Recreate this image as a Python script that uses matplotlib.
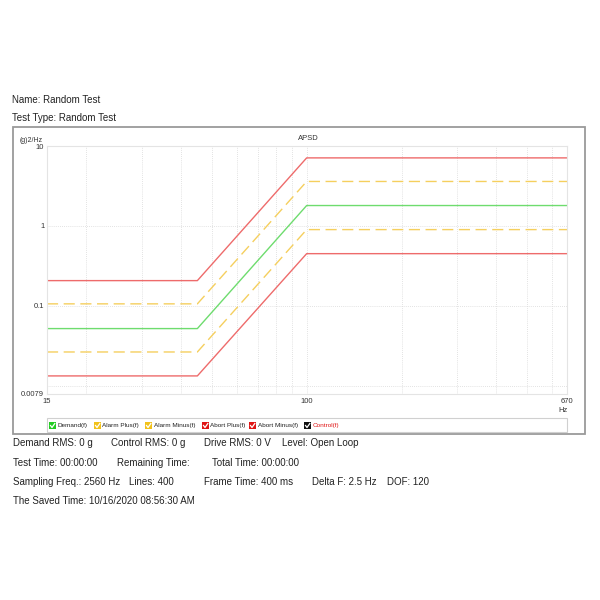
import matplotlib
matplotlib.use("Agg")
import matplotlib.pyplot as plt
from matplotlib.patches import Rectangle
from matplotlib.lines import Line2D

plt.rcParams['font.family'] = ['Liberation Sans', 'DejaVu Sans']

# ---------------- data ----------------
freq = [15, 45, 100, 670]
demand = [0.052, 0.052, 1.8, 1.8]
alarm_plus = [0.106, 0.106, 3.6, 3.6]
alarm_minus = [0.0265, 0.0265, 0.9, 0.9]
abort_plus = [0.207, 0.207, 7.1, 7.1]
abort_minus = [0.0133, 0.0133, 0.45, 0.45]

x_ticks = [15, 100, 670]
x_tick_labels = ["15", "100", "670"]
y_ticks = [10, 1, 0.1, 0.0079]
y_tick_labels = ["10", "1", "0.1", "0.0079"]
x_grid = [20, 30, 40, 50, 60, 70, 80, 90, 100, 200, 300, 400, 500, 600]
y_grid = [0.01, 0.1, 1, 10]

legend_names = ["Demand(f)", "Alarm Plus(f)", "Alarm Minus(f)", "Abort Plus(f)", "Abort Minus(f)", "Control(f)"]
legend_colors = ["#22CC22", "#F2C21B", "#F2C21B", "#E01515", "#E01515", "#111111"]
legend_x = [49, 94, 145, 202, 249, 304]

header = ["Name: Random Test", "Test Type: Random Test"]
footer_rows = [
    [(13, "Demand RMS: 0 g"), (111, "Control RMS: 0 g"), (204, "Drive RMS: 0 V"), (282, "Level: Open Loop")],
    [(13, "Test Time: 00:00:00"), (117, "Remaining Time:"), (212, "Total Time: 00:00:00")],
    [(13, "Sampling Freq.: 2560 Hz"), (129, "Lines: 400"), (204, "Frame Time: 400 ms"), (312, "Delta F: 2.5 Hz"), (387, "DOF: 120")],
    [(13, "The Saved Time: 10/16/2020 08:56:30 AM")],
]
footer_y = [443, 463, 482, 501]

W = H = 600.0
def fx(x):
    return x / W
def fy(y):
    return 1 - y / H

fig = plt.figure(figsize=(6, 6), dpi=100)
fig.patch.set_facecolor("white")

# outer panel border
fig.patches.append(Rectangle((fx(12.5), fy(434)), fx(585) - fx(12.5), fy(127) - fy(434),
                             transform=fig.transFigure, fill=False, edgecolor="#9A9A9A", lw=1.3))

# axes
ax = fig.add_axes([fx(47), fy(394), fx(567) - fx(47), fy(146) - fy(394)])
ax.set_xscale("log")
ax.set_yscale("log")
ax.set_xlim(15, 670)
ax.set_ylim(0.0079, 10)

for g in x_grid:
    ax.axvline(g, color="#D9D9D9", lw=0.6, ls=(0, (1, 1.5)), zorder=0)
for g in y_grid:
    ax.axhline(g, color="#D9D9D9", lw=0.6, ls=(0, (1, 1.5)), zorder=0)

red = "#EE6B6B"
yel = "#F5CF5E"
grn = "#6EDC6E"
ax.plot(freq, abort_plus, color=red, lw=1.0)
ax.plot(freq, abort_minus, color=red, lw=1.0)
ax.plot(freq, alarm_plus, color=yel, lw=1.0, ls=(0, (8, 4)))
ax.plot(freq, alarm_minus, color=yel, lw=1.0, ls=(0, (8, 4)))
ax.plot(freq, demand, color=grn, lw=1.0)

ax.minorticks_off()
ax.set_xticks(x_ticks)
ax.set_xticklabels(x_tick_labels, fontsize=5.5, color="#333333")
ax.set_yticks(y_ticks)
ax.set_yticklabels(y_tick_labels, fontsize=5.5, color="#333333")
ax.tick_params(axis="both", length=0, pad=2)
ax.tick_params(axis="x", pad=3)
for s in ax.spines.values():
    s.set_color("#E4E4E4")
    s.set_linewidth(0.8)

fig.text(fx(308), fy(138), "APSD", fontsize=5.5, ha="center", va="center", color="#333333")
fig.text(fx(20), fy(140), "(g)2/Hz", fontsize=5, ha="left", va="center", color="#333333")
fig.text(fx(563), fy(411), "Hz", fontsize=5.5, ha="center", va="center", color="#333333")

# legend strip
fig.patches.append(Rectangle((fx(47), fy(432)), fx(567) - fx(47), fy(418) - fy(432),
                             transform=fig.transFigure, fill=False, edgecolor="#D0D0D0", lw=0.8))
for x0, name, col in zip(legend_x, legend_names, legend_colors):
    fig.patches.append(Rectangle((fx(x0), fy(429)), fx(7), 7 / H, transform=fig.transFigure,
                                 facecolor=col, edgecolor="none"))
    fig.lines.append(Line2D([fx(x0 + 1.5), fx(x0 + 3), fx(x0 + 5.8)],
                            [fy(425.5), fy(427.5), fy(423.5)], transform=fig.transFigure,
                            color="white", lw=0.9))
    tcol = "#E01515" if name == "Control(f)" else "#222222"
    fig.text(fx(x0 + 8.5), fy(425.5), name, fontsize=4.6, ha="left", va="center", color=tcol)

# header
fig.text(fx(12), fy(100), header[0], fontsize=7, ha="left", va="center", color="#222222")
fig.text(fx(12), fy(118), header[1], fontsize=7, ha="left", va="center", color="#222222")

# footer
for row, yy in zip(footer_rows, footer_y):
    for xx, t in row:
        fig.text(fx(xx), fy(yy), t, fontsize=7, ha="left", va="center", color="#222222")

fig.savefig("out.png", dpi=100, facecolor="white")
